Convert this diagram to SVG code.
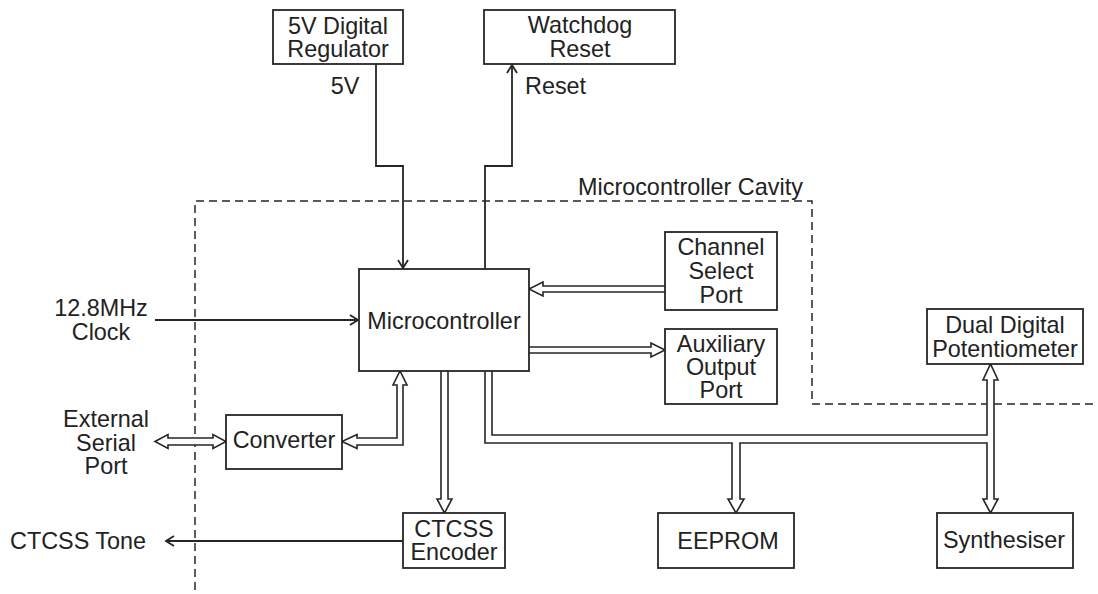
<svg xmlns="http://www.w3.org/2000/svg" width="1098" height="594" viewBox="0 0 1098 594">
<style>
  .box { fill: #fff; stroke: #262626; stroke-width: 1.8; }
  .t { font-family: "Liberation Sans", Arial, sans-serif; font-size: 23.4px; fill: #222; text-anchor: middle; }
  .ts { font-family: "Liberation Sans", Arial, sans-serif; font-size: 23.4px; fill: #222; text-anchor: start; }
  .w { fill: none; stroke: #262626; stroke-width: 1.8; }
  .bus { fill: #fff; stroke: #262626; stroke-width: 1.6; stroke-linejoin: miter; }
  .dash { fill: none; stroke: #262626; stroke-width: 1.5; stroke-dasharray: 8 5; }
</style>
<defs>
  <marker id="open" viewBox="0 0 10 12" markerWidth="10" markerHeight="12" refX="9" refY="6" orient="auto" markerUnits="userSpaceOnUse">
    <path d="M1,1 L9,6 L1,11" fill="none" stroke="#262626" stroke-width="1.8"/>
  </marker>
</defs>
<rect width="1098" height="594" fill="#fff"/>

<g id="cavity">
  <path class="dash" d="M195 590 V201 H812 V404 H1098"/>
  <text class="ts" x="578" y="195">Microcontroller Cavity</text>
</g>

<g id="connectors">
  <path class="w" d="M376 64 V166 H403 V268" marker-end="url(#open)"/>
  <path class="w" d="M485 269 V166 H512 V65" marker-end="url(#open)"/>
  <path class="w" d="M155 320 H358" marker-end="url(#open)"/>
  <path class="w" d="M403 541 H166" marker-end="url(#open)"/>
  <path class="bus" d="M665 286 H543 V282 L529 289 L543 296 V292 H665"/>
  <path class="bus" d="M529 347 H651 V343 L665 350 L651 357 V353 H529"/>
  <path class="bus" d="M357 438 V434.5 L342 441.5 L357 448.5 V445 H403 V385 H407 L400 371 L393 385 H397 V438 Z"/>
  <path class="bus" d="M155 441.5 L168 434.5 V438 H213 V434.5 L226 441.5 L213 448.5 V445 H168 V448.5 Z"/>
  <path class="bus" d="M441 371 V499 H437 L444.5 513 L452 499 H448 V371"/>
  <path class="bus" d="M485 371 V443 H732 V499 H728 L736 513 L744 499 H740 V443 H987 V499 H983 L990.5 513 L998 499 H994 V380 H998 L990.5 364 L983 380 H987 V435 H492 V371"/>
  <text class="t" x="345" y="94">5V</text>
  <text class="ts" x="525" y="94">Reset</text>
  <text class="t" x="101" y="316">12.8MHz</text>
  <text class="t" x="101" y="340">Clock</text>
  <text class="t" x="106" y="427">External</text>
  <text class="t" x="106" y="451">Serial</text>
  <text class="t" x="106" y="474">Port</text>
  <text class="ts" x="10" y="549">CTCSS Tone</text>
</g>

<g id="regulator">
  <rect class="box" x="273" y="10" width="130" height="54"/>
  <text class="t" x="338" y="34">5V Digital</text>
  <text class="t" x="338" y="57">Regulator</text>
</g>
<g id="watchdog">
  <rect class="box" x="484" y="10" width="191" height="54"/>
  <text class="t" x="580" y="33">Watchdog</text>
  <text class="t" x="580" y="57">Reset</text>
</g>
<g id="microcontroller">
  <rect class="box" x="359" y="269" width="170" height="102"/>
  <text class="t" x="444" y="329">Microcontroller</text>
</g>
<g id="channel-select">
  <rect class="box" x="665" y="232" width="112" height="78"/>
  <text class="t" x="721" y="255">Channel</text>
  <text class="t" x="721" y="279">Select</text>
  <text class="t" x="721" y="303">Port</text>
</g>
<g id="aux-output">
  <rect class="box" x="665" y="329" width="112" height="75"/>
  <text class="t" x="721" y="352">Auxiliary</text>
  <text class="t" x="721" y="375">Output</text>
  <text class="t" x="721" y="398">Port</text>
</g>
<g id="potentiometer">
  <rect class="box" x="927" y="309" width="156" height="55"/>
  <text class="t" x="1005" y="333">Dual Digital</text>
  <text class="t" x="1005" y="357">Potentiometer</text>
</g>
<g id="converter">
  <rect class="box" x="226" y="415" width="116" height="54"/>
  <text class="t" x="284" y="448">Converter</text>
</g>
<g id="ctcss-encoder">
  <rect class="box" x="403" y="513" width="102" height="55"/>
  <text class="t" x="454" y="537">CTCSS</text>
  <text class="t" x="454" y="560">Encoder</text>
</g>
<g id="eeprom">
  <rect class="box" x="658" y="513" width="136" height="55"/>
  <text class="t" x="728" y="549">EEPROM</text>
</g>
<g id="synthesiser">
  <rect class="box" x="937" y="513" width="136" height="55"/>
  <text class="t" x="1004" y="548">Synthesiser</text>
</g>
</svg>
